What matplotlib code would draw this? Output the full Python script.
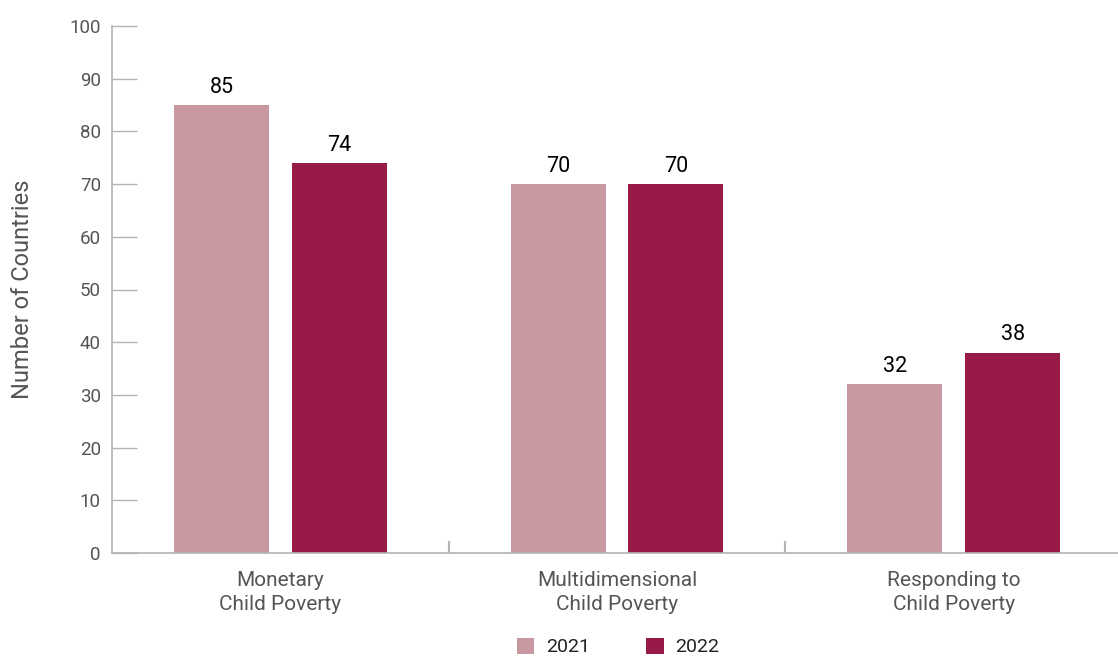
import matplotlib
matplotlib.use("Agg")
import matplotlib.pyplot as plt
import numpy as np
from matplotlib.patches import Patch

plt.rcParams['font.family'] = ['Roboto', 'DejaVu Sans']

categories = ['Monetary\nChild Poverty', 'Multidimensional\nChild Poverty',
              'Responding to\nChild Poverty']
vals_2021 = [85, 70, 32]
vals_2022 = [74, 70, 38]
series_names = ['2021', '2022']

c21 = '#C9979F'
c22 = '#981A48'
axis_gray = '#B3B3B3'
text_gray = '#555555'

fig = plt.figure(figsize=(11.18, 6.58), dpi=100)
ax = fig.add_axes([112 / 1118, 105 / 658, 1010 / 1118, 527 / 658])

x = np.arange(len(categories))
w = 0.282
off = 0.175
ax.bar(x - off, vals_2021, width=w, color=c21, zorder=2)
ax.bar(x + off, vals_2022, width=w, color=c22, zorder=2)

for xi, v in zip(x - off, vals_2021):
    ax.text(xi, v + 1.4, str(v), ha='center', va='bottom', fontsize=15.5, color='black')
for xi, v in zip(x + off, vals_2022):
    ax.text(xi, v + 1.4, str(v), ha='center', va='bottom', fontsize=15.5, color='black')

ax.set_xlim(-0.5, 2.5)
ax.set_ylim(0, 100)
ax.set_yticks(np.arange(0, 101, 10))
ax.tick_params(axis='y', direction='in', length=18, width=1, color=axis_gray,
               labelcolor=text_gray, labelsize=13.5, pad=8)

ax.set_xticks(x)
ax.set_xticklabels(categories, fontsize=15, color=text_gray, linespacing=1.32)
ax.tick_params(axis='x', length=0, pad=13)
ax.set_xticks([0.5, 1.5], minor=True)
ax.tick_params(axis='x', which='minor', direction='in', length=9, width=1.5,
               color=axis_gray)

for s in ['top', 'right']:
    ax.spines[s].set_visible(False)
for s in ['left', 'bottom']:
    ax.spines[s].set_color(axis_gray)
    ax.spines[s].set_linewidth(1.2)

ax.set_ylabel('Number of Countries', fontsize=17, color=text_gray)
ax.yaxis.set_label_coords(-0.077, 0.5)

handles = [Patch(facecolor=c21, edgecolor='none'), Patch(facecolor=c22, edgecolor='none')]
fig.legend(handles, series_names, loc='lower center', bbox_to_anchor=(0.553, -0.024),
           ncol=2, frameon=False, fontsize=14, handlelength=0.9, handleheight=0.9,
           handletextpad=0.6, columnspacing=2.9, labelcolor='#222222')

fig.savefig('out.png', dpi=100)
